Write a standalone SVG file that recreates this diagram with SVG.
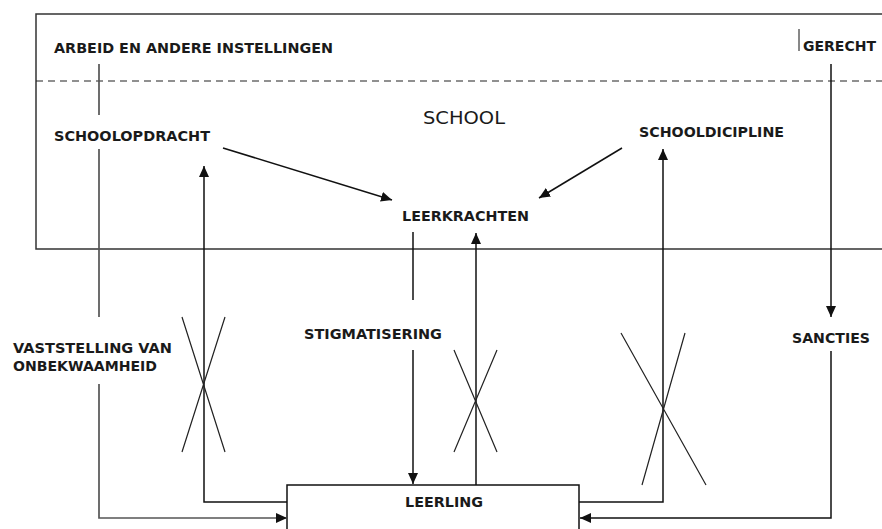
<svg xmlns="http://www.w3.org/2000/svg" width="882" height="529" viewBox="0 0 882 529">
<defs>
<marker id="ah" markerUnits="userSpaceOnUse" markerWidth="12" markerHeight="10" refX="11" refY="5" orient="auto">
<path d="M0,0 L11,5 L0,10 z" fill="#111"/>
</marker>
</defs>
<style>
text{font-family:"DejaVu Sans","Liberation Sans",sans-serif;font-weight:bold;font-size:14.6px;fill:#1a1a1a}
.big{font-weight:normal;font-size:18px}
.ln{stroke:#111;stroke-width:1.5;fill:none}
.gr{stroke:#555;stroke-width:1.7;fill:none}
.x{stroke:#222;stroke-width:1.2;fill:none}
.frame{stroke:#333;stroke-width:1.5;fill:none}
</style>
<rect width="882" height="529" fill="#fff"/>
<g id="frame">
<path class="frame" d="M882,14 H36 V249 H882"/>
<line x1="36" y1="81" x2="882" y2="81" stroke="#222" stroke-width="1.2" stroke-dasharray="7,5"/>
</g>
<g id="arbeid"><text x="54" y="52.5" textLength="279" lengthAdjust="spacingAndGlyphs">ARBEID EN ANDERE INSTELLINGEN</text></g>
<g id="gerecht"><line x1="799" y1="29" x2="799" y2="51" stroke="#111" stroke-width="1"/><text x="803" y="51" textLength="73" lengthAdjust="spacingAndGlyphs">GERECHT</text></g>
<g id="school"><text class="big" x="423" y="124" textLength="82" lengthAdjust="spacingAndGlyphs">SCHOOL</text></g>
<g id="schoolopdracht"><text x="54" y="140.7" textLength="156" lengthAdjust="spacingAndGlyphs">SCHOOLOPDRACHT</text></g>
<g id="schooldicipline"><text x="639" y="137" textLength="145" lengthAdjust="spacingAndGlyphs">SCHOOLDICIPLINE</text></g>
<g id="leerkrachten"><text x="402" y="221" textLength="127" lengthAdjust="spacingAndGlyphs">LEERKRACHTEN</text></g>
<g id="stigmatisering"><text x="304" y="339" textLength="138" lengthAdjust="spacingAndGlyphs">STIGMATISERING</text></g>
<g id="vaststelling"><text x="13" y="353" textLength="159" lengthAdjust="spacingAndGlyphs">VASTSTELLING VAN</text><text x="13" y="371" textLength="144" lengthAdjust="spacingAndGlyphs">ONBEKWAAMHEID</text></g>
<g id="sancties"><text x="792" y="343" textLength="78" lengthAdjust="spacingAndGlyphs">SANCTIES</text></g>
<g id="leerling"><rect x="287" y="485" width="292" height="60" fill="#fff" stroke="#111" stroke-width="1.5"/><text x="405" y="507" textLength="78" lengthAdjust="spacingAndGlyphs">LEERLING</text></g>
<g id="connectors">
<path class="gr" d="M99,64 V115 M99,149 V317"/>
<path class="gr" d="M99,384 V518 H287" marker-end="url(#ah)"/>
<path class="ln" d="M287,502 H204 V166" marker-end="url(#ah)"/>
<path class="ln" d="M223,148 L392,200" marker-end="url(#ah)"/>
<path class="ln" d="M622,148 L539,198" marker-end="url(#ah)"/>
<path class="ln" d="M413,232 V300"/>
<path class="ln" d="M413,350 V484" marker-end="url(#ah)"/>
<path class="ln" d="M476,485 V233" marker-end="url(#ah)"/>
<path class="ln" d="M579,502 H663 V149" marker-end="url(#ah)"/>
<path class="ln" d="M831,64 V317" marker-end="url(#ah)"/>
<path class="ln" d="M831,351 V518 H580" marker-end="url(#ah)"/>
<path class="x" d="M182,317 L225,452 M225,317 L182,452"/>
<path class="x" d="M454,350 L497,452 M497,350 L454,452"/>
<path class="x" d="M621,333 L706,485 M685,333 L642,485"/>
</g>
</svg>
